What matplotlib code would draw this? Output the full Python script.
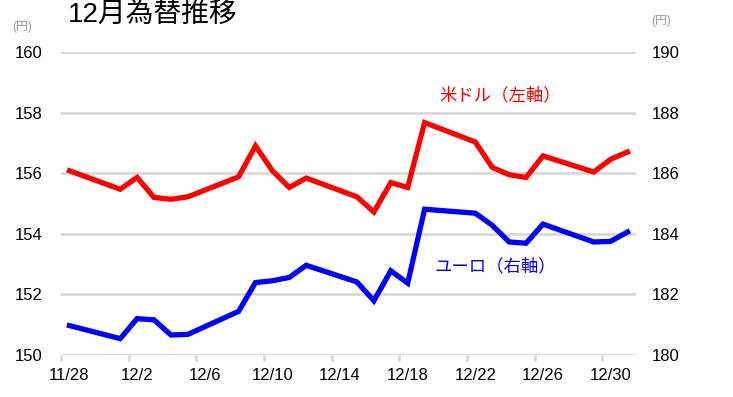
import matplotlib
matplotlib.use("Agg")
import matplotlib.pyplot as plt
from datetime import datetime, timedelta

dates = ["11/28", "12/1", "12/2", "12/3", "12/4", "12/5", "12/8", "12/9", "12/10", "12/11",
         "12/12", "12/15", "12/16", "12/17", "12/18", "12/19", "12/22", "12/23", "12/24",
         "12/25", "12/26", "12/29", "12/30", "12/31"]
usd = [156.08, 155.47, 155.86, 155.20, 155.14, 155.22, 155.88, 156.90, 156.08, 155.53,
       155.84, 155.22, 154.72, 155.69, 155.53, 157.67, 157.03, 156.19, 155.95, 155.86,
       156.57, 156.04, 156.46, 156.70]
eur = [180.97, 180.54, 181.20, 181.16, 180.66, 180.68, 181.44, 182.39, 182.45, 182.56,
       182.96, 182.41, 181.79, 182.78, 182.37, 184.81, 184.68, 184.28, 183.73, 183.69,
       184.32, 183.73, 183.75, 184.06]
left_ticks = [150, 152, 154, 156, 158, 160]
right_ticks = [180, 182, 184, 186, 188, 190]
xtick_labels = ["11/28", "12/2", "12/6", "12/10", "12/14", "12/18", "12/22", "12/26", "12/30"]

def to_dt(s, hour=0):
    m, d = map(int, s.split("/"))
    return datetime(2025, m, d, hour)

xs = [to_dt(s, 12) for s in dates]
xt = [to_dt(s) for s in xtick_labels]
xt_lab = [to_dt(s, 12) for s in xtick_labels]

fam = ["Liberation Sans", "Noto Sans CJK JP"]
plt.rcParams["font.family"] = fam

fig = plt.figure(figsize=(7.33, 3.97), dpi=100)
ax = fig.add_axes([61/733, 1-355/397, 575/733, (355-52)/397])
ax2 = ax.twinx()

grid_c = "#d9d9d9"
for v in left_ticks:
    ax.axhline(v, color=grid_c, lw=2, zorder=0)

ax.plot(xs, usd, color="#ff0000", lw=3.8, solid_joinstyle="miter", zorder=3)
ax2.plot(xs, eur, color="#0000ff", lw=3.8, solid_joinstyle="miter", zorder=3)

ax.set_xlim(datetime(2025, 11, 28), datetime(2026, 1, 1))
ax.set_ylim(150, 160)
ax2.set_ylim(180, 190)
ax.set_yticks(left_ticks)
ax.set_yticklabels([str(v) for v in left_ticks])
ax2.set_yticks(right_ticks)
ax2.set_yticklabels([str(v) for v in right_ticks])
ax.set_xticks(xt)
ax.set_xticklabels([""] * len(xt))
ax.set_xticks(xt_lab, minor=True)
ax.set_xticklabels(xtick_labels, minor=True)

for a in (ax, ax2):
    for s in a.spines.values():
        s.set_visible(False)
ax.tick_params(axis="x", which="major", length=4.5, width=2, color=grid_c)
ax.tick_params(axis="x", which="minor", length=0, labelsize=12, pad=9)
ax.tick_params(axis="y", length=0, labelsize=12, pad=13)
ax2.tick_params(axis="y", length=0, labelsize=12, pad=11.5)

fig.text(68/733, 1-15/397, "12月為替推移", fontsize=20, va="center", ha="left", color="black")
fig.text(22.5/733, 1-27/397, "(円)", fontsize=8.5, va="center", ha="center", color="#999999")
fig.text(661/733, 1-21/397, "(円)", fontsize=8.5, va="center", ha="center", color="#999999")

ax.text(datetime(2025, 11, 28) + timedelta(days=25.95), 158.58, "米ドル（左軸）",
        color="#ff0000", fontsize=12.5, ha="center", va="center")
ax.text(datetime(2025, 11, 28) + timedelta(days=25.7), 152.94, "ユーロ（右軸）",
        color="#0000ff", fontsize=12.5, ha="center", va="center")

fig.savefig("out.png", dpi=100)
